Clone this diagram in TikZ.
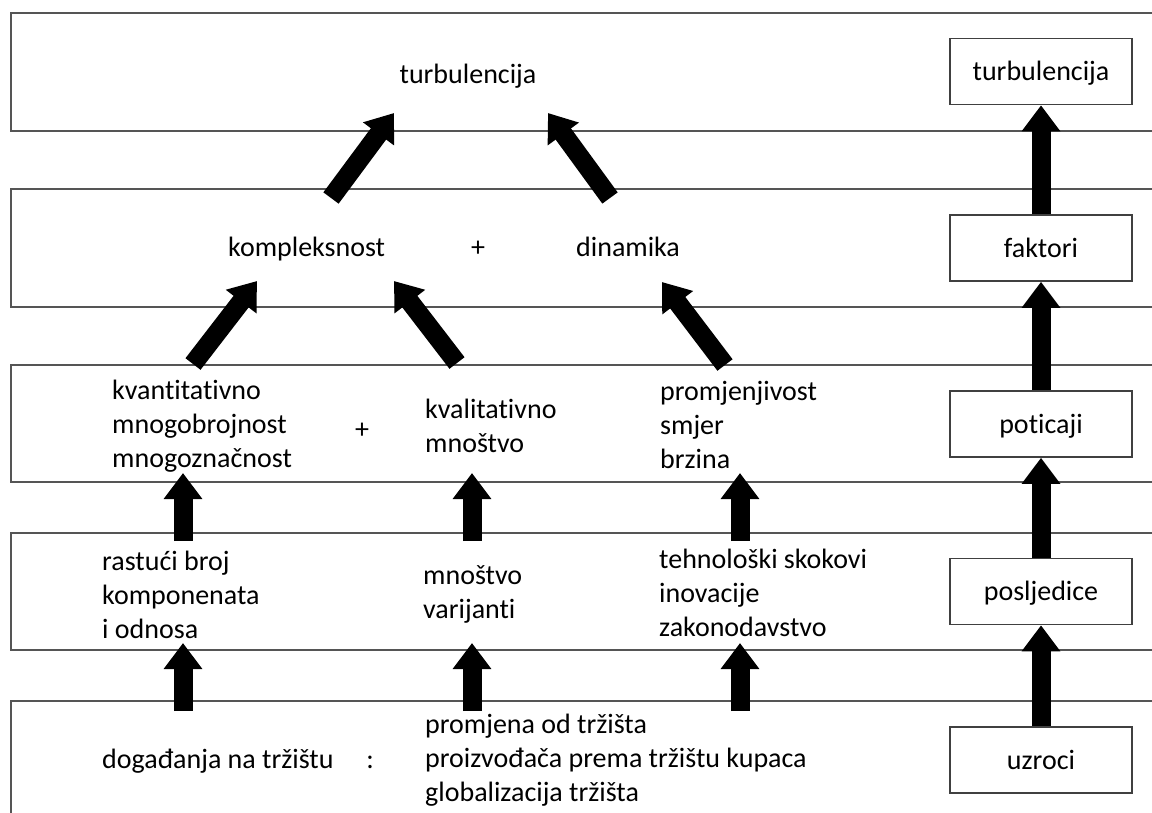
\documentclass[tikz,border=0pt]{standalone}
\usepackage{fontspec}
\setmainfont{Carlito}[Ligatures=NoCommon]
\usetikzlibrary{arrows.meta}
\definecolor{bandline}{RGB}{85,85,85}
\definecolor{boxline}{RGB}{64,64,64}
\begin{document}
\begin{tikzpicture}[x=1pt,y=-1pt,
  band/.style={draw=bandline,line width=1.6pt},
  rbox/.style={draw=boxline,line width=1.6pt,minimum width=182pt,minimum height=66pt,inner sep=0pt,text height=22pt,text depth=4pt,font=\fontsize{28}{34}\selectfont},
  lbl/.style={inner sep=0pt,align=left,font=\fontsize{28}{34}\selectfont},
  bigarrow/.style={line width=19pt,-{Triangle[length=26pt,width=37pt]}}]
\clip (0,0) rectangle (1152,812);
\fill[white] (0,0) rectangle (1152,812);
% bands
\draw[band] (11,13) rectangle (1180,131);
\draw[band] (11,189) rectangle (1180,307);
\draw[band] (11,365) rectangle (1180,482);
\draw[band] (11,533) rectangle (1180,650);
\draw[band] (11,701) rectangle (1180,830);
% right column
\node[rbox] (r1) at (1041,71.5) {turbulencija};
\node[rbox] (r2) at (1041,248) {faktori};
\node[rbox] (r3) at (1041,424) {poticaji};
\node[rbox] (r4) at (1041,591.5) {posljedice};
\node[rbox] (r5) at (1041,760) {uzroci};
\draw[bigarrow] (r5.north) -- (r4.south);
\draw[bigarrow] (r4.north) -- (r3.south);
\draw[bigarrow] (r3.north) -- (r2.south);
\draw[bigarrow] (r2.north) -- (r1.south);
% texts
\node[lbl,anchor=base] (t1) at (468,83) {turbulencija};
\node[lbl,anchor=base west] (k) at (228,256) {kompleksnost};
\node[lbl] (p1) at (478,249) {+};
\node[lbl,anchor=base west] (d) at (576,256) {dinamika};
\node[lbl,anchor=west] (kv) at (112,426) {kvantitativno\\mnogobrojnost\\mnogoznačnost};
\node[lbl] (p2) at (362,431) {+};
\node[lbl,anchor=west] (kl) at (425,426) {kvalitativno\\mnoštvo};
\node[lbl,anchor=west] (pr) at (660,425) {promjenjivost\\smjer\\brzina};
\node[lbl,anchor=west] (ra) at (102,595) {rastući broj\\komponenata\\i odnosa};
\node[lbl,anchor=west] (mv) at (423,594) {mnoštvo\\varijanti};
\node[lbl,anchor=west] (te) at (659,593) {tehnološki skokovi\\inovacije\\zakonodavstvo};
\node[lbl,anchor=base west] (dg) at (102,768) {događanja na tržištu};
\node[lbl,anchor=base] (col) at (370,768) {:};
\node[lbl,anchor=west] (pm) at (425,760) {promjena od tržišta\\proizvođača prema tržištu kupaca\\globalizacija tržišta};
% arrow end points
\coordinate (a1s) at (183,541); \coordinate (a1t) at (183,473);
\coordinate (a2s) at (183,711); \coordinate (a2t) at (183,643);
\coordinate (b1s) at (472,541); \coordinate (b1t) at (472,473);
\coordinate (b2s) at (472,711); \coordinate (b2t) at (472,643);
\coordinate (c1s) at (740,541); \coordinate (c1t) at (740,473);
\coordinate (c2s) at (740,711); \coordinate (c2t) at (740,643);
\coordinate (d1s) at (193,364); \coordinate (d1t) at (257,281);
\coordinate (d2s) at (457,363); \coordinate (d2t) at (394,281);
\coordinate (d3s) at (725,365); \coordinate (d3t) at (662,282);
\coordinate (e1s) at (331,198); \coordinate (e1t) at (394,113);
\coordinate (e2s) at (610,198); \coordinate (e2t) at (548,113);
\foreach \p in {a1,a2,b1,b2,c1,c2,d1,d2,d3,e1,e2}
  \draw[bigarrow] (\p s) -- (\p t);
\end{tikzpicture}
\end{document}
